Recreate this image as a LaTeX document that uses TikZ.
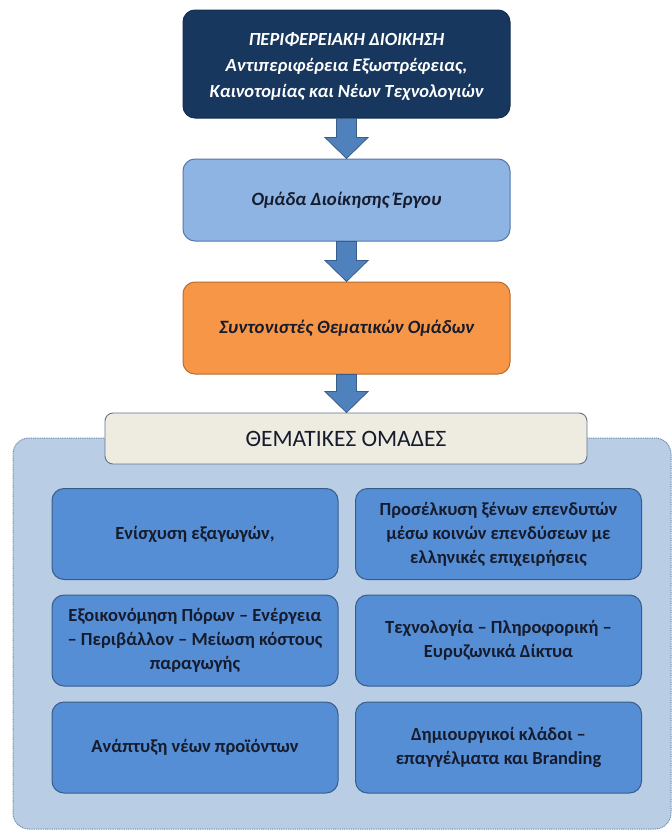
\documentclass[tikz,border=0pt]{standalone}
\usepackage{fontspec}
\setmainfont{Carlito}
\usetikzlibrary{calc}
\definecolor{navy}{RGB}{23,55,94}
\definecolor{navyb}{RGB}{20,45,80}
\definecolor{ltblue}{RGB}{142,180,227}
\definecolor{ltblueb}{RGB}{85,120,170}
\definecolor{orng}{RGB}{247,150,70}
\definecolor{orngb}{RGB}{182,109,49}
\definecolor{arrf}{RGB}{79,129,189}
\definecolor{arrb}{RGB}{56,93,138}
\definecolor{cream}{RGB}{238,236,225}
\definecolor{creamb}{RGB}{95,115,145}
\definecolor{contf}{RGB}{185,205,229}
\definecolor{contb}{RGB}{115,140,175}
\definecolor{inner}{RGB}{85,142,213}
\definecolor{innerb}{RGB}{56,93,138}
\definecolor{txt}{RGB}{22,28,45}
\newcommand\bigarrow[2]{%
  \draw[arrowst] let \p1=(#1.south), \p2=(#2.north) in
    (\x1-10pt,\y1) -- (\x1+10pt,\y1) -- (\x1+10pt,\y2+21pt) -- (\x1+21.5pt,\y2+21pt)
    -- (\x1,\y2) -- (\x1-21.5pt,\y2+21pt) -- (\x1-10pt,\y2+21pt) -- cycle;}
\begin{document}
\begin{tikzpicture}[x=1pt,y=-1pt,
  box/.style={draw, line width=1pt, rounded corners=12pt, inner sep=0pt, align=center},
  topbox/.style={box, fill=navy, draw=navyb, minimum width=327, minimum height=108},
  toptext/.style={text=white, inner sep=0pt, align=center,
    font=\fontsize{18.5}{26}\selectfont\bfseries\itshape},
  midbox/.style={box, text=txt, minimum width=327,
    font=\fontsize{18.8}{25}\selectfont\bfseries\itshape},
  creambox/.style={draw=creamb, fill=cream, line width=0.9pt, rounded corners=8pt, inner sep=0pt,
    minimum width=482, minimum height=51, text=txt, font=\fontsize{23.5}{26}\selectfont},
  contbox/.style={draw=contb, fill=contf, line width=1pt, dash pattern=on 1pt off 0.8pt,
    rounded corners=16pt, inner sep=0pt, minimum width=658, minimum height=391},
  themebox/.style={box, fill=inner, draw=innerb, text=txt, minimum width=286, minimum height=91,
    font=\fontsize{18.5}{24}\selectfont\bfseries},
  arrowst/.style={fill=arrf, draw=arrb, line width=0.8pt, line join=miter}]
\useasboundingbox (0,0) rectangle (672,830);
\fill[white] (0,0) rectangle (672,830);

\node[topbox] (top) at (346.5,64) {};
\node[toptext] (toplbl) at ([yshift=-3pt]top.center) {ΠΕΡΙΦΕΡΕΙΑΚΗ ΔΙΟΙΚΗΣΗ\\Αντιπεριφέρεια Εξωστρέφειας,\\Καινοτομίας και Νέων Τεχνολογιών};
\node[midbox, fill=ltblue, draw=ltblueb, minimum height=82] (pm) at (346.5,200) {Ομάδα Διοίκησης Έργου};
\node[midbox, fill=orng, draw=orngb, minimum height=92] (coord) at (346.5,328) {Συντονιστές Θεματικών Ομάδων};

\node[contbox] (cont) at (342,633.5) {};
\node[creambox] (groups) at (346,438.5) {ΘΕΜΑΤΙΚΕΣ ΟΜΑΔΕΣ};

\bigarrow{top}{pm}
\bigarrow{pm}{coord}
\bigarrow{coord}{groups}

\node[themebox] (t1) at (195,534) {Ενίσχυση εξαγωγών,};
\node[themebox] (t2) at (498.5,534) {Προσέλκυση ξένων επενδυτών\\μέσω κοινών επενδύσεων με\\ελληνικές επιχειρήσεις};
\node[themebox] (t3) at (195,640.5) {Εξοικονόμηση Πόρων – Ενέργεια\\– Περιβάλλον – Μείωση κόστους\\παραγωγής};
\node[themebox] (t4) at (498.5,640.5) {Τεχνολογία – Πληροφορική –\\Ευρυζωνικά Δίκτυα};
\node[themebox] (t5) at (195,747.5) {Ανάπτυξη νέων προϊόντων};
\node[themebox] (t6) at (498.5,747.5) {Δημιουργικοί κλάδοι –\\επαγγέλματα και Branding};
\end{tikzpicture}
\end{document}
